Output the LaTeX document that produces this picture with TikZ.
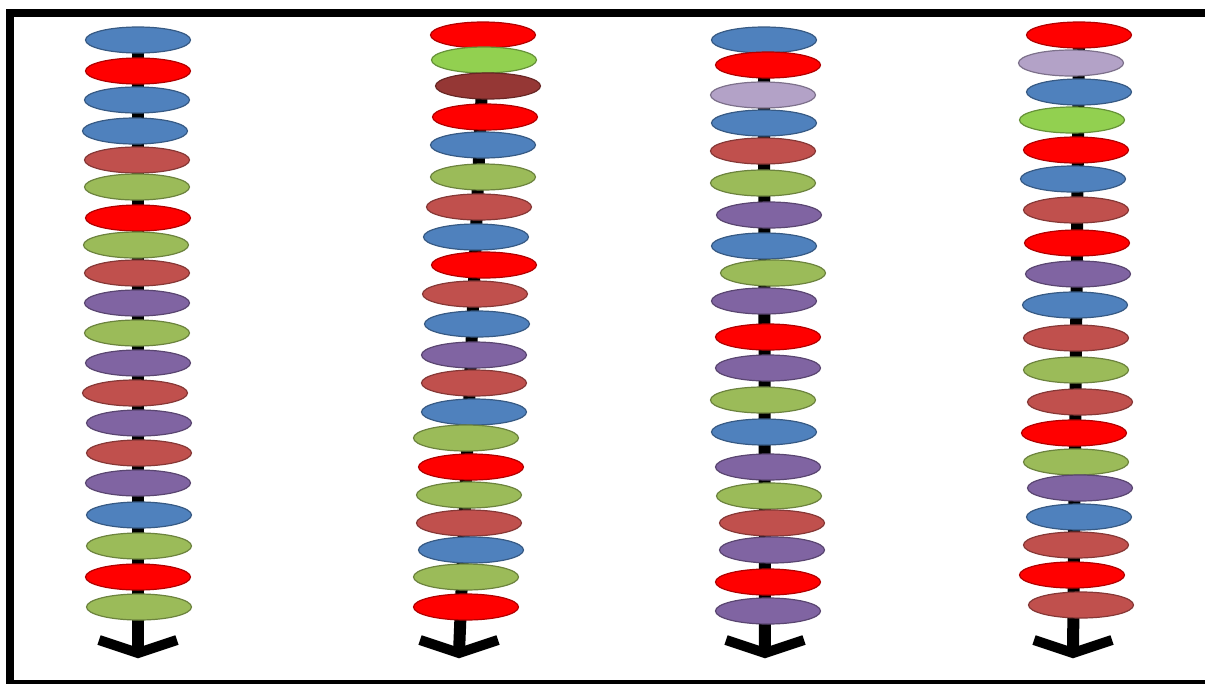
\documentclass[tikz,border=0pt]{standalone}
\usepackage{xcolor}
\usepackage{tikz}
\usetikzlibrary{arrows.meta,shapes.geometric}
\definecolor{obl}{HTML}{4F81BD}
\definecolor{ored}{HTML}{FF0000}
\definecolor{obrick}{HTML}{C0504D}
\definecolor{ogreen}{HTML}{9BBB59}
\definecolor{opurple}{HTML}{8064A2}
\definecolor{olime}{HTML}{92D050}
\definecolor{olilac}{HTML}{B3A2C7}
\definecolor{obrown}{HTML}{953735}

\begin{document}
\begin{tikzpicture}[x=1pt,y=-1pt,
  bead/.style={ellipse,draw=#1!70!black,fill=#1,line width=1.2pt,minimum width=105pt,minimum height=26pt,inner sep=0pt},
  rod/.style={line width=12pt},
  head/.style={line width=10pt,miter limit=10},
  frame/.style={line width=8pt}]
\useasboundingbox (0,0) rectangle (1205,683);
\clip (0,0) rectangle (1205,683);
\draw[frame] (10,13) rectangle (1240,684);
\coordinate (atop) at (138,40); \coordinate (atip) at (138,653);
\coordinate (btop) at (484,35); \coordinate (btip) at (459,653);
\coordinate (ctop) at (764,40); \coordinate (ctip) at (765,653);
\coordinate (dtop) at (1079,35); \coordinate (dtip) at (1073,653);
\foreach \s in {a,b,c,d} {
  \draw[rod] (\s top) -- (\s tip);
  \draw[head] (\s tip) ++(-39,-13) -- (\s tip) -- ++(39,-13);
}
\foreach \x/\y/\c [count=\i] in {138/40/obl,138/71/ored,137/100/obl,135/131/obl,137/160/obrick,137/187/ogreen,138/218/ored,136/245/ogreen,137/273/obrick,137/303/opurple,137/333/ogreen,138/363/opurple,135/393/obrick,139/423/opurple,139/453/obrick,138/483/opurple,139/515/obl,139/546/ogreen,138/577/ored,139/607/ogreen}
  \node[bead=\c] (a\i) at (\x,\y) {};
\foreach \x/\y/\c [count=\i] in {483/35/ored,484/60/olime,488/86/obrown,485/117/ored,483/145/obl,483/177/ogreen,479/207/obrick,476/237/obl,484/265/ored,475/294/obrick,477/324/obl,474/355/opurple,474/383/obrick,474/412/obl,466/438/ogreen,471/467/ored,469/495/ogreen,469/523/obrick,471/550/obl,466/577/ogreen,466/607/ored}
  \node[bead=\c] (b\i) at (\x,\y) {};
\foreach \x/\y/\c [count=\i] in {764/40/obl,768/65/ored,763/95/olilac,764/123/obl,763/151/obrick,763/183/ogreen,769/215/opurple,764/246/obl,773/273/ogreen,764/301/opurple,768/337/ored,768/368/opurple,763/400/ogreen,764/432/obl,768/467/opurple,769/496/ogreen,772/523/obrick,772/550/opurple,768/582/ored,768/611/opurple}
  \node[bead=\c] (c\i) at (\x,\y) {};
\foreach \x/\y/\c [count=\i] in {1079/35/ored,1071/63/olilac,1079/92/obl,1072/120/olime,1076/150/ored,1073/179/obl,1076/210/obrick,1077/243/ored,1078/274/opurple,1075/305/obl,1076/338/obrick,1076/370/ogreen,1080/402/obrick,1074/433/ored,1076/462/ogreen,1080/488/opurple,1079/517/obl,1076/545/obrick,1072/575/ored,1081/605/obrick}
  \node[bead=\c] (d\i) at (\x,\y) {};
\end{tikzpicture}
\end{document}
